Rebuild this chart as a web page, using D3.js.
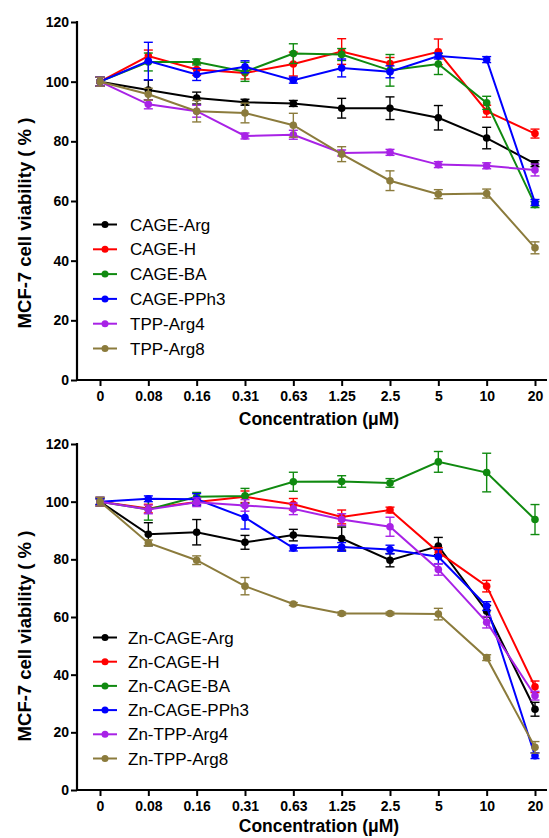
<!doctype html>
<html lang="en">
<head>
<meta charset="utf-8">
<title>MCF-7 cell viability</title>
<script src="https://d3js.org/d3.v7.min.js"></script>
<style>
  body { margin: 0; background: #fff; }
  svg { font-family: Arial, "Liberation Sans", sans-serif; }
  .axis text { font-size: 14px; font-weight: bold; fill: #000; }
  .axis line { stroke: #000; stroke-width: 2; }
  .axis path { display: none; }
</style>
</head>
<body>
<svg id="chart" width="549" height="838"></svg>
<script>
// concentrations (µM) shown as categories
var concentrations = ["0", "0.08", "0.16", "0.31", "0.63", "1.25", "2.5", "5", "10", "20"];
var yTicks = [0, 20, 40, 60, 80, 100, 120];
var colors = ["#000000", "#ff0000", "#108a10", "#0000ff", "#a822e6", "#8b7b3c"];

// top panel
var topNames = ["CAGE-Arg", "CAGE-H", "CAGE-BA", "CAGE-PPh3", "TPP-Arg4", "TPP-Arg8"];
var cageArg   = [100, 97.2, 94.5, 93.1, 92.7, 91.1, 91.1, 87.9, 81.1, 72.5];
var cageH     = [100, 108.6, 104.1, 102.9, 105.9, 110.1, 106.1, 110.0, 90.1, 82.6];
var cageBA    = [100, 106.6, 106.6, 103.3, 109.4, 109.1, 103.8, 105.9, 92.9, 58.8];
var cagePPh3  = [100, 106.9, 102.4, 105.0, 100.5, 104.6, 103.3, 108.6, 107.4, 59.5];
var tppArg4   = [100, 92.4, 90.1, 81.8, 82.2, 76.1, 76.3, 72.2, 71.8, 70.4];
var tppArg8   = [100, 95.8, 90.1, 89.5, 85.4, 75.7, 66.8, 62.3, 62.5, 44.3];
var cageArgErr  = [1.5, 3.3, 2, 1, 1, 3.3, 3.8, 4.1, 3.6, 1];
var cageHErr    = [1.5, 2, 2, 2, 4, 4.3, 2, 4.3, 2, 1.5];
var cageBAErr   = [1.5, 3, 1, 3.2, 3.3, 2, 5.3, 3.5, 2.2, 1];
var cagePPh3Err = [1.5, 6.3, 2, 2, 1, 3, 2, 1, 1, 1];
var tppArg4Err  = [1.5, 1.5, 2, 1, 1.5, 1, 1, 1, 1, 2];
var tppArg8Err  = [1.5, 2, 3.6, 3.3, 4, 2.5, 3.3, 1.5, 1.5, 2];

// bottom panel
var botNames = ["Zn-CAGE-Arg", "Zn-CAGE-H", "Zn-CAGE-BA", "Zn-CAGE-PPh3", "Zn-TPP-Arg4", "Zn-TPP-Arg8"];
var znCageArg   = [100, 88.7, 89.4, 85.9, 88.4, 87.2, 79.7, 84.6, 62.0, 28.0];
var znCageH     = [100, 97.6, 99.9, 101.7, 99.1, 94.7, 97.1, 82.5, 70.7, 35.8];
var znCageBA    = [100, 97.3, 101.7, 102.0, 106.9, 107.0, 106.5, 113.8, 110.1, 93.8];
var znCagePPh3  = [100, 101.0, 100.8, 94.5, 83.9, 84.3, 83.4, 80.9, 63.8, 11.9];
var znTppArg4   = [100, 97.3, 99.8, 98.7, 97.5, 93.8, 91.3, 76.5, 58.2, 32.7];
var znTppArg8   = [100, 85.7, 79.7, 70.7, 64.5, 61.2, 61.2, 61.0, 45.9, 14.8];
var znCageArgErr  = [1.5, 4, 4.4, 2.4, 2, 4, 2.3, 3, 2, 2.4];
var znCageHErr    = [1, 1.5, 1, 2, 2, 2.4, 1, 1.5, 2, 2];
var znCageBAErr   = [1, 3.7, 1.5, 2.6, 3.3, 2, 1.5, 3.6, 6.7, 5.2];
var znCagePPh3Err = [1, 1, 2, 4, 1, 1.5, 1.5, 2.5, 1.5, 1];
var znTppArg4Err  = [1.5, 1.5, 1.5, 2, 2, 2, 3.3, 2, 2, 1.5];
var znTppArg8Err  = [1.5, 1, 1.5, 3, 0.5, 0.5, 0.5, 2, 1, 2];

var svg = d3.select("#chart");

function drawPanel(opt) {
    var x = d3.scalePoint().domain(concentrations).range([100, 535]);
    var y = d3.scaleLinear().domain([0, 120]).range([opt.bottom, opt.top]);
    var g = svg.append("g");

    // axes
    g.append("g")
        .attr("class", "axis")
        .attr("transform", "translate(77,0)")
        .call(d3.axisLeft(y).tickValues(yTicks).tickSize(6).tickPadding(2).tickSizeOuter(0));
    g.append("g")
        .attr("class", "axis")
        .attr("transform", "translate(0," + opt.bottom + ")")
        .call(d3.axisBottom(x).tickSize(6).tickPadding(5).tickSizeOuter(0));
    g.append("line")
        .attr("x1", 77).attr("x2", 77)
        .attr("y1", y(120) - 1).attr("y2", y(0) + 1)
        .attr("stroke", "#000").attr("stroke-width", 2.2);
    g.append("line")
        .attr("x1", 76).attr("x2", 547)
        .attr("y1", y(0)).attr("y2", y(0))
        .attr("stroke", "#000").attr("stroke-width", 2.2);

    // axis titles
    g.append("text")
        .attr("transform", "translate(31," + opt.yTitleY + ") rotate(-90)")
        .attr("text-anchor", "middle")
        .style("font-size", "18.5px").style("font-weight", "bold")
        .text("MCF-7 cell viability ( % )");
    g.append("text")
        .attr("x", 319).attr("y", opt.xTitleY)
        .attr("text-anchor", "middle")
        .style("font-size", "17.5px").style("font-weight", "bold")
        .text("Concentration (\u03bcM)");

    var line = d3.line()
        .x(function(d, i) { return x(concentrations[i]); })
        .y(function(d) { return y(d); });

    opt.series.forEach(function(s, k) {
        var col = colors[k];
        var sg = g.append("g");
        // error bars
        s.values.forEach(function(v, i) {
            var cx = x(concentrations[i]);
            var e = s.errors[i];
            sg.append("line")
                .attr("x1", cx).attr("x2", cx)
                .attr("y1", y(v + e)).attr("y2", y(v - e))
                .attr("stroke", col).attr("stroke-width", 1.4);
            [v + e, v - e].forEach(function(w) {
                sg.append("line")
                    .attr("x1", cx - 4.5).attr("x2", cx + 4.5)
                    .attr("y1", y(w)).attr("y2", y(w))
                    .attr("stroke", col).attr("stroke-width", 1.4);
            });
        });
        sg.append("path")
            .datum(s.values)
            .attr("d", line)
            .attr("fill", "none")
            .attr("stroke", col)
            .attr("stroke-width", 2);
        sg.selectAll("circle")
            .data(s.values)
            .enter().append("circle")
            .attr("cx", function(d, i) { return x(concentrations[i]); })
            .attr("cy", function(d) { return y(d); })
            .attr("r", 3.8)
            .attr("fill", col);
    });

    // legend
    var lg = g.append("g");
    opt.series.forEach(function(s, k) {
        var ly = opt.legendY + k * opt.legendStep;
        lg.append("line")
            .attr("x1", 93).attr("x2", 117).attr("y1", ly).attr("y2", ly)
            .attr("stroke", colors[k]).attr("stroke-width", 2);
        lg.append("circle")
            .attr("cx", 105).attr("cy", ly).attr("r", 3.5)
            .attr("fill", colors[k]);
        lg.append("text")
            .attr("x", opt.legendTextX).attr("y", ly + 6)
            .style("font-size", "17px")
            .text(s.name);
    });
}

drawPanel({
    top: 22, bottom: 380, yTitleY: 223, xTitleY: 425,
    legendY: 224.5, legendStep: 24.8, legendTextX: 130,
    series: [
        { name: topNames[0], values: cageArg,  errors: cageArgErr },
        { name: topNames[1], values: cageH,    errors: cageHErr },
        { name: topNames[2], values: cageBA,   errors: cageBAErr },
        { name: topNames[3], values: cagePPh3, errors: cagePPh3Err },
        { name: topNames[4], values: tppArg4,  errors: tppArg4Err },
        { name: topNames[5], values: tppArg8,  errors: tppArg8Err }
    ]
});

drawPanel({
    top: 444, bottom: 790, yTitleY: 636, xTitleY: 832,
    legendY: 637.5, legendStep: 24.2, legendTextX: 128,
    series: [
        { name: botNames[0], values: znCageArg,  errors: znCageArgErr },
        { name: botNames[1], values: znCageH,    errors: znCageHErr },
        { name: botNames[2], values: znCageBA,   errors: znCageBAErr },
        { name: botNames[3], values: znCagePPh3, errors: znCagePPh3Err },
        { name: botNames[4], values: znTppArg4,  errors: znTppArg4Err },
        { name: botNames[5], values: znTppArg8,  errors: znTppArg8Err }
    ]
});
</script>
</body>
</html>
